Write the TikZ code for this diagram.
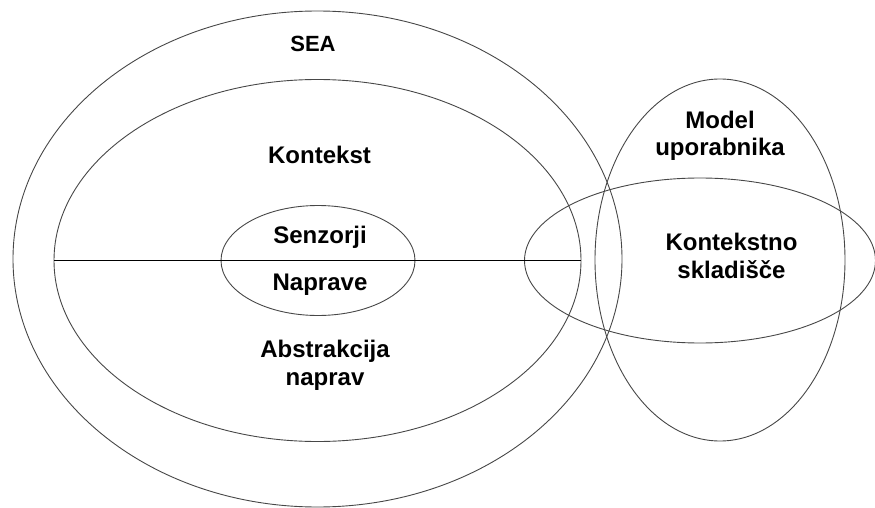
\documentclass[tikz,border=0pt]{standalone}
\usepackage{fontspec}
\setmainfont{Liberation Sans}
\usetikzlibrary{shapes.geometric}
\begin{document}
\begin{tikzpicture}[x=1pt, y=-1pt,
  ring/.style={draw=black!72, line width=0.9pt, ellipse, inner sep=0pt, outer sep=0pt},
  lbl/.style={font=\bfseries\fontsize{24}{27.5}\selectfont, align=center, anchor=base, inner sep=0pt}]
  \useasboundingbox (0,0) rectangle (875,508);

  % nested system layers
  \node[ring, minimum width=609pt, minimum height=496pt] (sea) at (317.5,259) {};
  \node[ring, minimum width=527pt, minimum height=362pt] (ctx) at (317.5,260.5) {};
  \node[ring, minimum width=194pt, minimum height=110pt] (sens) at (318,260.5) {};

  % user model and context store
  \node[ring, minimum width=250pt, minimum height=362pt] (user) at (720,260) {};
  \node[ring, minimum width=351pt, minimum height=165pt] (store) at (700,260.5) {};

  % divider between context and device abstraction
  \draw[black, line width=1.1pt] (ctx.west) -- (ctx.east);

  % labels (multi-line labels sit on the baseline of their last line)
  \node[lbl, font=\bfseries\fontsize{22}{26}\selectfont] (tsea) at (313,52) {SEA};
  \node[lbl] (tctx) at (319.5,163) {Kontekst};
  \node[lbl] (tsens) at (320,243) {Senzorji};
  \node[lbl] (tdev) at (320,290) {Naprave};
  \node[lbl] (tabs) at (325,385) {Abstrakcija\\naprav};
  \node[lbl] (tuser) at (720,156) {Model\\uporabnika};
  \node[lbl] (tstore) at (731.5,278) {Kontekstno\\skladišče};
\end{tikzpicture}
\end{document}
